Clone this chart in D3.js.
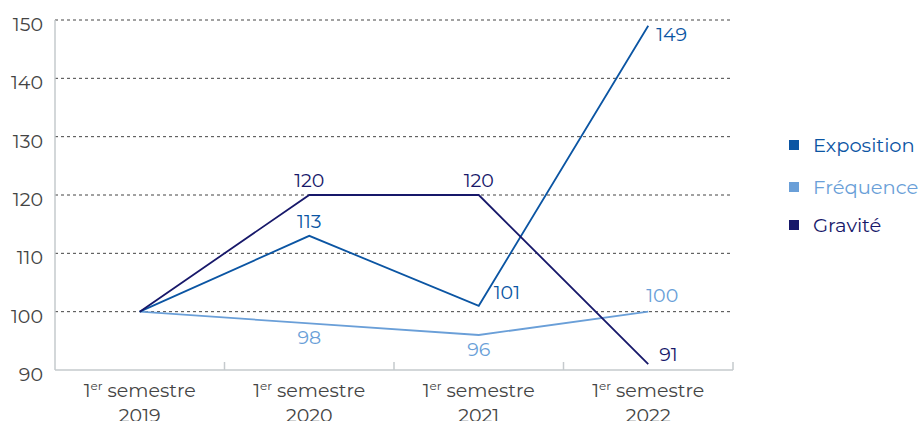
<!DOCTYPE html>
<html lang="fr">
<head>
<meta charset="UTF-8" />
<script src="https://cdn.jsdelivr.net/npm/d3@7"></script>
<style>
  body { margin: 0; background: #fff; }
  text { font-family: Montserrat, "Open Sans", sans-serif; }
</style>
</head>
<body>
<script>
var w = 923;
var h = 421;

var years = ["2019", "2020", "2021", "2022"];
var exposition = [100, 113, 101, 149];
var frequence = [100, 98, 96, 100];
var gravite = [100, 120, 120, 91];
var yTicks = [90, 100, 110, 120, 130, 140, 150];
var seriesNames = ["Exposition", "Fréquence", "Gravité"];
var colors = ["#0b55a3", "#6a9fd8", "#17186a"];

var margin = { left: 55, right: 190, top: 20, bottom: 51 };
var plotW = w - margin.left - margin.right;
var plotH = h - margin.top - margin.bottom;

var xScale = d3.scaleBand().domain(years).range([0, plotW]);
var yScale = d3.scaleLinear().domain([90, 150]).range([plotH, 0]);

var svg = d3.select("body").append("svg")
	.attr("width", w)
	.attr("height", h);

var g = svg.append("g")
	.attr("transform", "translate(" + margin.left + "," + margin.top + ")");

// dashed grid
g.selectAll(".grid")
	.data(yTicks.filter(function (d) { return d > 90; }))
	.enter()
	.append("line")
	.attr("x1", 0)
	.attr("x2", plotW)
	.attr("y1", function (d) { return yScale(d); })
	.attr("y2", function (d) { return yScale(d); })
	.attr("stroke", "#444")
	.attr("stroke-width", 1)
	.attr("stroke-dasharray", "3,3");

// axes lines
g.append("line")
	.attr("x1", 0).attr("x2", 0)
	.attr("y1", 0).attr("y2", plotH)
	.attr("stroke", "#c5cacd").attr("stroke-width", 1.5);
g.append("line")
	.attr("x1", 0).attr("x2", plotW)
	.attr("y1", plotH).attr("y2", plotH)
	.attr("stroke", "#c5cacd").attr("stroke-width", 1.5);
g.selectAll(".xtick")
	.data(years)
	.enter()
	.append("line")
	.attr("x1", function (d) { return xScale(d) + xScale.bandwidth(); })
	.attr("x2", function (d) { return xScale(d) + xScale.bandwidth(); })
	.attr("y1", plotH)
	.attr("y2", plotH - 8)
	.attr("stroke", "#c5cacd").attr("stroke-width", 1.5);

// y tick labels
g.selectAll(".ylab")
	.data(yTicks)
	.enter()
	.append("text")
	.attr("x", -12)
	.attr("y", function (d) { return yScale(d) + 11; })
	.attr("text-anchor", "end")
	.attr("font-size", "19px")
	.attr("fill", "#444")
	.text(function (d) { return d; });

// x labels
var xl = g.selectAll(".xlab")
	.data(years)
	.enter()
	.append("text")
	.attr("text-anchor", "middle")
	.attr("font-size", "19px")
	.attr("fill", "#444")
	.attr("x", function (d) { return xScale(d) + xScale.bandwidth() / 2; })
	.attr("y", plotH + 27);
xl.append("tspan").text("1");
xl.append("tspan").attr("font-size", "12px").attr("dy", -7).text("er");
xl.append("tspan").attr("dy", 7).text(" semestre");
xl.append("tspan")
	.attr("x", function (d) { return xScale(d) + xScale.bandwidth() / 2; })
	.attr("dy", 25)
	.text(function (d) { return d; });

var cx = function (i) { return xScale(years[i]) + xScale.bandwidth() / 2; };
var line = d3.line()
	.x(function (d, i) { return cx(i); })
	.y(function (d) { return yScale(d); });

var allSeries = [exposition, frequence, gravite];
// draw Fréquence first, then Exposition, then Gravité
[1, 0, 2].forEach(function (k) {
	g.append("path")
		.datum(allSeries[k])
		.attr("d", line)
		.attr("fill", "none")
		.attr("stroke", colors[k])
		.attr("stroke-width", 1.8);
});

// value labels: [dx, dy] offsets relative to the point
var offsets = [
	[null, [0, -8], [15, -7], [8, 15]],
	[null, [0, 21], [0, 21], [-2, -10]],
	[null, [0, -8], [0, -8], [11, -3]]
];
allSeries.forEach(function (s, k) {
	s.forEach(function (v, i) {
		var o = offsets[k][i];
		if (!o) return;
		g.append("text")
			.attr("x", cx(i) + o[0])
			.attr("y", yScale(v) + o[1])
			.attr("text-anchor", o[0] === 0 ? "middle" : "start")
			.attr("font-size", "19px")
			.attr("fill", colors[k])
			.text(v);
	});
});

// legend
var legY = [145, 187, 225];
var leg = svg.selectAll(".leg")
	.data(seriesNames)
	.enter()
	.append("g")
	.attr("transform", function (d, i) { return "translate(789," + legY[i] + ")"; });
leg.append("rect")
	.attr("x", 0).attr("y", -5)
	.attr("width", 10).attr("height", 10)
	.attr("fill", function (d, i) { return colors[i]; });
leg.append("text")
	.attr("x", 24)
	.attr("y", 7)
	.attr("font-size", "19.5px")
	.attr("fill", function (d, i) { return colors[i]; })
	.text(function (d) { return d; });
</script>
</body>
</html>
